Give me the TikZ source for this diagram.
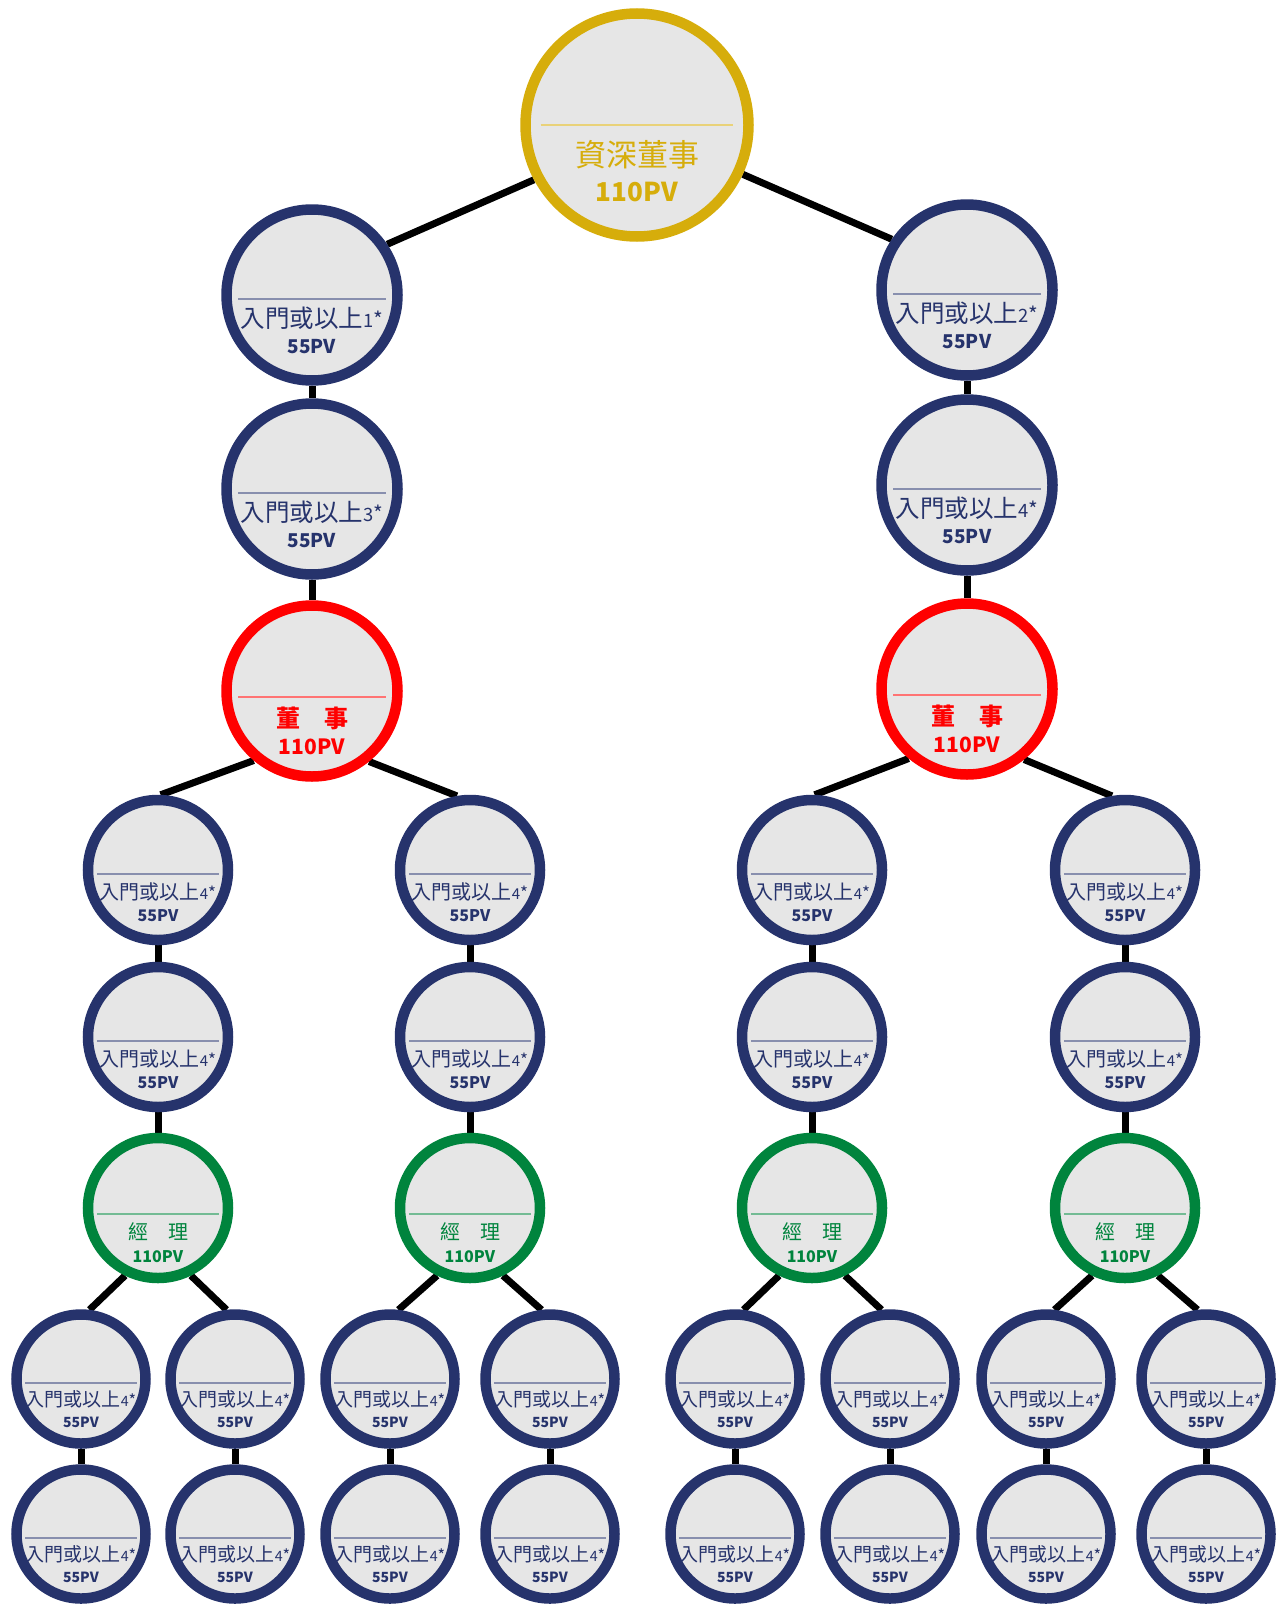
\documentclass[tikz,border=0pt]{standalone}
\usepackage{fontspec}
\setmainfont{Noto Sans CJK TC}
\usetikzlibrary{calc,backgrounds}

\definecolor{gold}{HTML}{D6AD0B}
\definecolor{navy}{HTML}{26336C}
\definecolor{redring}{HTML}{FF0000}
\definecolor{greenring}{HTML}{00843D}
\definecolor{discgray}{HTML}{E6E6E6}

% small level mark after a title, e.g. 1*
\newcommand{\rank}[1]{{\fontsize{0.75\fontdimen6\font}{0pt}\selectfont #1}{\fontsize{0.85\fontdimen6\font}{0pt}\selectfont *}}

% one member: disc, title and points
\newcommand{\member}[5]{%
  \node[#3] (#1) at (#2) {};
  \node[#3 title] (#1t) at (#1.center) {#4};
  \node[#3 pv] (#1v) at (#1.center) {#5};
}

\tikzset{
  disc/.style 2 args={circle, inner sep=0pt, fill=discgray, draw=#1, line width=10.5pt,
    path picture={\draw[line width=1.4pt, #1!55!white]
      ([yshift=-#2]$(path picture bounding box.center)!0.865!(path picture bounding box.west)$) --
      ([yshift=-#2]$(path picture bounding box.center)!0.865!(path picture bounding box.east)$);}},
  senior/.style={disc={gold}{0pt}, minimum size=223pt},
  senior title/.style={text=gold, font=\fontsize{31}{31}\selectfont, yshift=-30pt},
  senior pv/.style={text=gold, font=\bfseries\fontsize{26}{26}\selectfont, yshift=-67pt},
  chain/.style={disc={navy}{4pt}, minimum size=171pt},
  chain title/.style={text=navy, font=\fontsize{24.5}{24.5}\selectfont, yshift=-23pt},
  chain pv/.style={text=navy, font=\bfseries\fontsize{19}{19}\selectfont, yshift=-52pt},
  boss/.style={disc={redring}{6pt}, minimum size=171pt},
  boss title/.style={text=redring, font=\bfseries\fontsize{24}{24}\selectfont, yshift=-27pt},
  boss pv/.style={text=redring, font=\bfseries\fontsize{21}{21}\selectfont, yshift=-56pt},
  branch/.style={disc={navy}{4pt}, minimum size=140pt},
  branch title/.style={text=navy, font=\fontsize{20}{20}\selectfont, yshift=-22pt},
  branch pv/.style={text=navy, font=\bfseries\fontsize{16}{16}\selectfont, yshift=-46pt},
  mgr/.style={disc={greenring}{6pt}, minimum size=140pt},
  mgr title/.style={text=greenring, font=\fontsize{20}{20}\selectfont, yshift=-24pt},
  mgr pv/.style={text=greenring, font=\bfseries\fontsize{16}{16}\selectfont, yshift=-49pt},
  leaf/.style={disc={navy}{4pt}, minimum size=129pt},
  leaf title/.style={text=navy, font=\fontsize{19}{19}\selectfont, yshift=-20pt},
  leaf pv/.style={text=navy, font=\bfseries\fontsize{14}{14}\selectfont, yshift=-43pt},
  link/.style={line width=7pt, black},
}

\begin{document}
\begin{tikzpicture}[x=1pt, y=-1pt]
    \useasboundingbox (0,0) rectangle (1280,1611);

    % Top of the tree
    \member{sd}{637,125}{senior}{資深董事}{110PV}

    % Left and right chains down to the two directors
    \member{l1}{312,295}{chain}{入門或以上\rank{1}}{55PV}
    \member{l2}{312,489}{chain}{入門或以上\rank{3}}{55PV}
    \member{dl}{312,691}{boss}{董　事}{110PV}
    \member{r1}{967,290}{chain}{入門或以上\rank{2}}{55PV}
    \member{r2}{967,485}{chain}{入門或以上\rank{4}}{55PV}
    \member{dr}{967,689}{boss}{董　事}{110PV}

    % Four branches down to the managers
    \member{a1}{158,870}{branch}{入門或以上\rank{4}}{55PV}
    \member{b1}{158,1037}{branch}{入門或以上\rank{4}}{55PV}
    \member{m1}{158,1208}{mgr}{經　理}{110PV}
    \member{a2}{470,870}{branch}{入門或以上\rank{4}}{55PV}
    \member{b2}{470,1037}{branch}{入門或以上\rank{4}}{55PV}
    \member{m2}{470,1208}{mgr}{經　理}{110PV}
    \member{a3}{812,870}{branch}{入門或以上\rank{4}}{55PV}
    \member{b3}{812,1037}{branch}{入門或以上\rank{4}}{55PV}
    \member{m3}{812,1208}{mgr}{經　理}{110PV}
    \member{a4}{1125,870}{branch}{入門或以上\rank{4}}{55PV}
    \member{b4}{1125,1037}{branch}{入門或以上\rank{4}}{55PV}
    \member{m4}{1125,1208}{mgr}{經　理}{110PV}

    % Leaves under each manager
    \member{c1}{81,1379}{leaf}{入門或以上\rank{4}}{55PV}
    \member{e1}{81,1534}{leaf}{入門或以上\rank{4}}{55PV}
    \member{f1}{235,1379}{leaf}{入門或以上\rank{4}}{55PV}
    \member{g1}{235,1534}{leaf}{入門或以上\rank{4}}{55PV}
    \member{c2}{390,1379}{leaf}{入門或以上\rank{4}}{55PV}
    \member{e2}{390,1534}{leaf}{入門或以上\rank{4}}{55PV}
    \member{f2}{550,1379}{leaf}{入門或以上\rank{4}}{55PV}
    \member{g2}{550,1534}{leaf}{入門或以上\rank{4}}{55PV}
    \member{c3}{735,1379}{leaf}{入門或以上\rank{4}}{55PV}
    \member{e3}{735,1534}{leaf}{入門或以上\rank{4}}{55PV}
    \member{f3}{890,1379}{leaf}{入門或以上\rank{4}}{55PV}
    \member{g3}{890,1534}{leaf}{入門或以上\rank{4}}{55PV}
    \member{c4}{1046,1379}{leaf}{入門或以上\rank{4}}{55PV}
    \member{e4}{1046,1534}{leaf}{入門或以上\rank{4}}{55PV}
    \member{f4}{1206,1379}{leaf}{入門或以上\rank{4}}{55PV}
    \member{g4}{1206,1534}{leaf}{入門或以上\rank{4}}{55PV}

    % Connectors behind the discs
    \begin{scope}[on background layer]
        \draw[link] (sd.208) -- (l1.34);
        \draw[link] (sd.335) -- (r1.146);
        \draw[link] (l1) -- (l2) -- (dl);
        \draw[link] (r1) -- (r2) -- (dr);
        \draw[link] (dl.230) -- (a1.88);
        \draw[link] (dl.309) -- (a2.100);
        \draw[link] (dr.230) -- (a3.88);
        \draw[link] (dr.309) -- (a4.100);
        \draw[link] (a1) -- (b1) -- (m1);
        \draw[link] (a2) -- (b2) -- (m2);
        \draw[link] (a3) -- (b3) -- (m3);
        \draw[link] (a4) -- (b4) -- (m4);
        \draw[link] (m1.244) -- (c1.83);  \draw[link] (m1.296) -- (f1.97);
        \draw[link] (m2.244) -- (c2.83);  \draw[link] (m2.296) -- (f2.97);
        \draw[link] (m3.244) -- (c3.83);  \draw[link] (m3.296) -- (f3.97);
        \draw[link] (m4.244) -- (c4.83);  \draw[link] (m4.296) -- (f4.97);
        \draw[link] (c1) -- (e1);  \draw[link] (f1) -- (g1);
        \draw[link] (c2) -- (e2);  \draw[link] (f2) -- (g2);
        \draw[link] (c3) -- (e3);  \draw[link] (f3) -- (g3);
        \draw[link] (c4) -- (e4);  \draw[link] (f4) -- (g4);
    \end{scope}
\end{tikzpicture}
\end{document}
